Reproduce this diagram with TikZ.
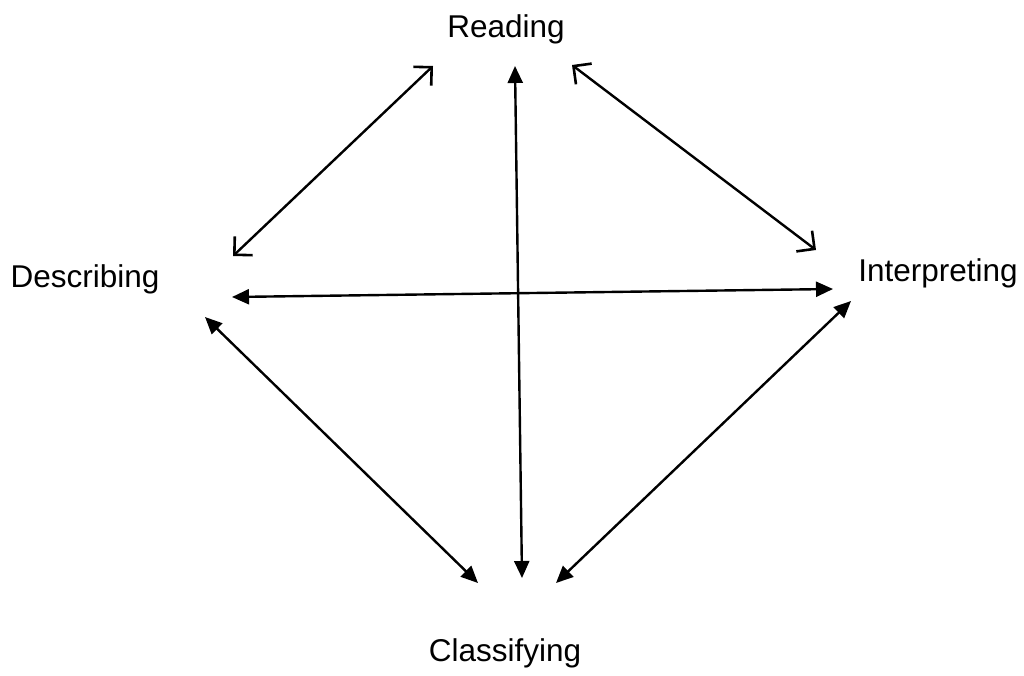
\documentclass[tikz,border=0pt]{standalone}
\usepackage{fontspec}
\setmainfont{Liberation Sans}
\usetikzlibrary{arrows.meta}
\begin{document}
\begin{tikzpicture}[x=1pt,y=-1pt,
  lbl/.style={font=\fontsize{31.5}{36}\selectfont, inner sep=0pt},
  solidarr/.style={line width=2.4pt, {Triangle[length=17pt,width=15pt]}-{Triangle[length=17pt,width=15pt]}},
  openarr/.style={line width=2.4pt, {Straight Barb[length=13pt,width=26pt,line width=2.6pt]}-{Straight Barb[length=13pt,width=26pt,line width=2.6pt]}}]
\useasboundingbox (0,0) rectangle (1024,675);
\node[lbl] (R) at (506,29) {Reading};
\node[lbl] (D) at (85,279) {Describing};
\node[lbl] (I) at (938,273) {Interpreting};
\node[lbl] (C) at (505,653) {Classifying};
\coordinate (rd) at (433,66);
\coordinate (dr) at (233,256);
\coordinate (rc) at (515,66);
\coordinate (cr) at (522,578);
\coordinate (ri) at (572,65);
\coordinate (ir) at (816,250);
\coordinate (di) at (232,297);
\coordinate (id) at (833,289);
\coordinate (dc) at (205,317);
\coordinate (cd) at (478,583);
\coordinate (ic) at (851,301);
\coordinate (ci) at (556,583);
\draw[openarr] (rd) -- (dr);
\draw[solidarr] (rc) -- (cr);
\draw[openarr] (ri) -- (ir);
\draw[solidarr] (di) -- (id);
\draw[solidarr] (dc) -- (cd);
\draw[solidarr] (ic) -- (ci);
\end{tikzpicture}
\end{document}
